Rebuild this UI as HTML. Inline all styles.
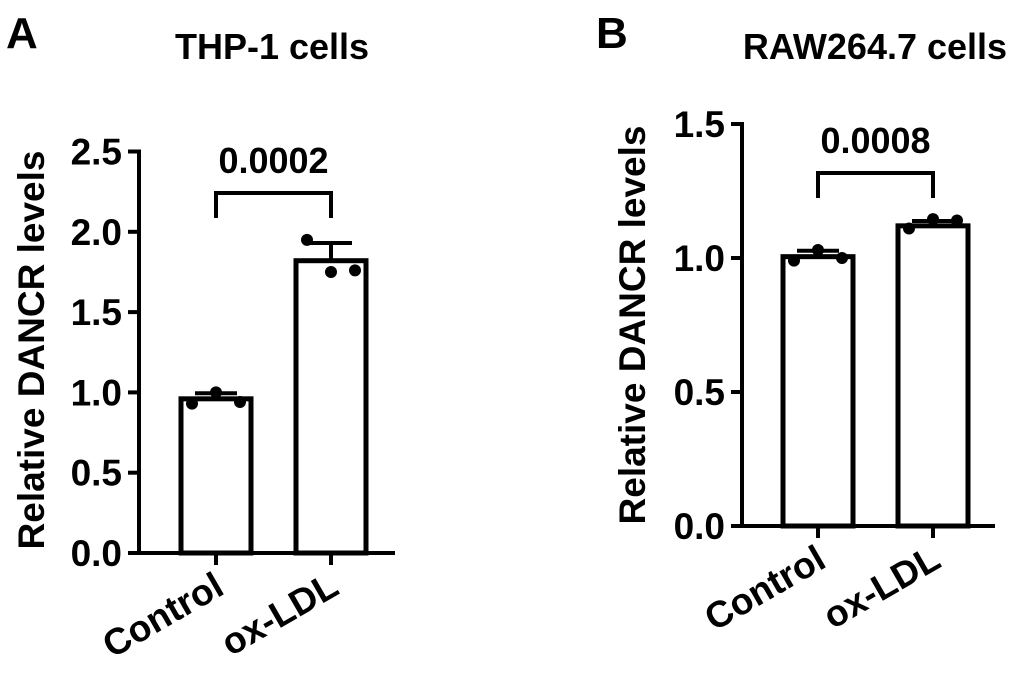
<!DOCTYPE html>
<html><head><meta charset="utf-8">
<style>
html,body{margin:0;padding:0;background:#fff;}
svg{display:block;font-family:"Liberation Sans",Arial,sans-serif;font-weight:bold;}
</style></head>
<body>
<svg id="fig" width="1020" height="679" viewBox="0 0 1020 679" xmlns="http://www.w3.org/2000/svg"></svg>
<script>
const categories = ["Control", "ox-LDL"];
const aMeans = [0.96, 1.82];
const aSD = [0.035, 0.11];
const aPoints = [[0.93, 1.00, 0.94], [1.95, 1.75, 1.76]];
const aTicks = ["0.0", "0.5", "1.0", "1.5", "2.0", "2.5"];
const bMeans = [1.005, 1.12];
const bSD = [0.022, 0.018];
const bPoints = [[0.99, 1.03, 1.00], [1.11, 1.145, 1.14]];
const bTicks = ["0.0", "0.5", "1.0", "1.5"];

const NS = "http://www.w3.org/2000/svg";
const svg = document.getElementById("fig");
function mk(tag, attrs, parent, text) {
  const e = document.createElementNS(NS, tag);
  for (const k in attrs) e.setAttribute(k, attrs[k]);
  if (text !== undefined) e.textContent = text;
  (parent || svg).appendChild(e);
  return e;
}

function panel(cfg) {
  const g = mk("g", {});
  
  
  const y = v => cfg.y0 - v * cfg.ppu;
  const top = y(cfg.ymax);
  const L = mk("text", {x: cfg.letterX, y: 48, "font-size": 44}, g, cfg.letter);
  
  
  const T = mk("text", {x: cfg.titleX, y: 59, "font-size": 36, "text-anchor": "middle"}, g, cfg.title);
  
  
  const ya = mk("line", {x1: cfg.ax, y1: top - 2, x2: cfg.ax, y2: cfg.y0 + 2, stroke: "#000", "stroke-width": 4}, g);
  
  
  cfg.ticks.forEach(t => {
    const v = parseFloat(t);
    const tl = mk("line", {x1: cfg.ax - 11, y1: y(v), x2: cfg.ax, y2: y(v), stroke: "#000", "stroke-width": 4}, g);
    
    
    const tx = mk("text", {x: cfg.ax - 17, y: y(v) + 13, "font-size": 37, "text-anchor": "end"}, g, t);
    
    
  });
  const yt = mk("text", {x: 0, y: 0, "font-size": 37, "text-anchor": "middle", transform: `translate(${cfg.ytX},${cfg.ytY}) rotate(-90)`}, g, "Relative DANCR levels");
  
  
  const xa = mk("line", {x1: cfg.ax - 2, y1: cfg.y0, x2: cfg.xEnd, y2: cfg.y0, stroke: "#000", "stroke-width": 4}, g);
  
  
  categories.forEach((c, i) => {
    const cx = cfg.cx[i];
    const m = cfg.means[i];
    const bar = mk("rect", {x: cx - cfg.bw / 2, y: y(m), width: cfg.bw, height: cfg.y0 - y(m), fill: "#fff", stroke: "#000", "stroke-width": 5}, g);
    
    
    const sd = cfg.sd[i];
    const e1 = mk("line", {x1: cx, y1: y(m), x2: cx, y2: y(m + sd), stroke: "#000", "stroke-width": 4}, g);
    
    
    const e2 = mk("line", {x1: cx - 21, y1: y(m + sd), x2: cx + 21, y2: y(m + sd), stroke: "#000", "stroke-width": 4}, g);
    
    
    cfg.points[i].forEach((p, j) => {
      const d = mk("circle", {cx: cx + (j - 1) * 24, cy: y(p), r: 6, fill: "#000"}, g);
      
      
    });
    const xt = mk("line", {x1: cx, y1: cfg.y0, x2: cx, y2: cfg.y0 + 12, stroke: "#000", "stroke-width": 4}, g);
    
    
    const lab = mk("text", {x: 0, y: 0, "font-size": 37, "text-anchor": "end", transform: `translate(${cx + 10},${cfg.y0 + 40}) rotate(-30)`}, g, c);
    
    
  });
  const b = mk("polyline", {points: `${cfg.cx[0]},${cfg.brTip} ${cfg.cx[0]},${cfg.brTop} ${cfg.cx[1]},${cfg.brTop} ${cfg.cx[1]},${cfg.brTip}`, fill: "none", stroke: "#000", "stroke-width": 4}, g);
  
  
  const p = mk("text", {x: (cfg.cx[0] + cfg.cx[1]) / 2, y: cfg.brTop - 20, "font-size": 36, "text-anchor": "middle"}, g, cfg.pval);
  
  
}

panel({name: "panel-a-thp1", letter: "A", letterX: 6, title: "THP-1 cells", titleX: 272,
  ax: 139, y0: 553, ppu: 160.6, ymax: 2.5, xEnd: 395, ticks: aTicks,
  ytX: 44, ytY: 350, cx: [216, 331], bw: 70, means: aMeans, sd: aSD, points: aPoints,
  brTop: 193, brTip: 218, pval: "0.0002"});
panel({name: "panel-b-raw", letter: "B", letterX: 596, title: "RAW264.7 cells", titleX: 875,
  ax: 742, y0: 526, ppu: 268, ymax: 1.5, xEnd: 995, ticks: bTicks,
  ytX: 645, ytY: 325, cx: [818, 933], bw: 70, means: bMeans, sd: bSD, points: bPoints,
  brTop: 173, brTip: 198, pval: "0.0008"});
</script>
</body></html>
